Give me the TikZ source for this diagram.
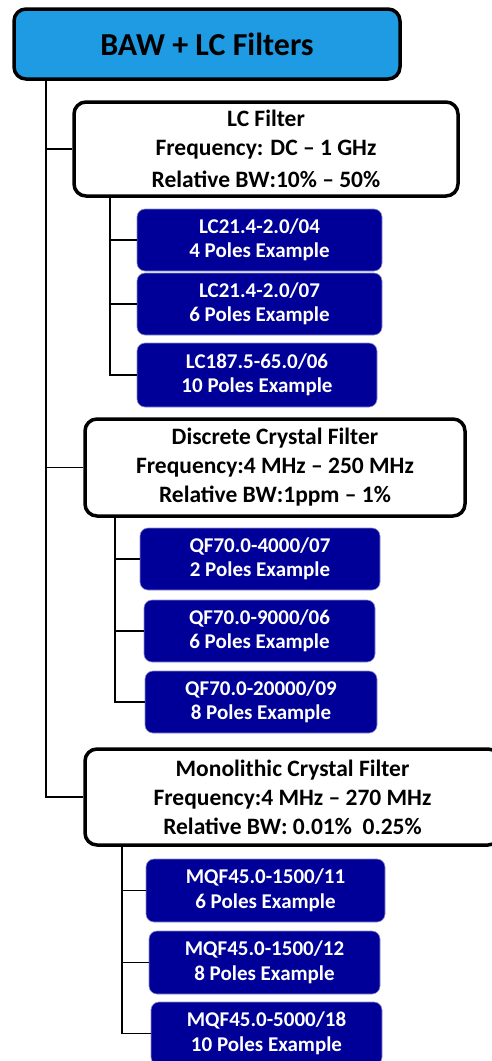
\documentclass[tikz,border=0pt]{standalone}
\usepackage{fontspec}
\setmainfont{Carlito}
\definecolor{bawblue}{RGB}{30,155,226}
\definecolor{polesblue}{RGB}{0,0,153}
\tikzset{
  titlebox/.style={draw=black, line width=3.5pt, rounded corners=12pt, fill=bawblue,
    font=\fontsize{32}{38}\selectfont\bfseries},
  familybox/.style={draw=black, line width=3.5pt, rounded corners=12pt, fill=white,
    align=center, inner sep=0pt, font=\fontsize{23.5}{29}\selectfont\bfseries},
  examplebox/.style={draw=polesblue!45!white, line width=0.6pt, rounded corners=8pt,
    fill=polesblue, text=white, align=center, inner sep=0pt,
    font=\fontsize{21}{24.5}\selectfont\bfseries},
  branch/.style={line width=1.5pt}
}
\begin{document}
\begin{tikzpicture}[x=1pt, y=-1pt]
  \useasboundingbox (0,0) rectangle (492,1061);
  \clip (0,0) rectangle (492,1061);

  % Abscisses des troncs
  \def\xmain{46}   % tronc principal
  \def\xlc{110}    % sous-tronc LC
  \def\xdcf{115}   % sous-tronc quartz discret
  \def\xmcf{122}   % sous-tronc quartz monolithique

  % ==============================================
  % 1. TITRE ET FAMILLES
  % ==============================================
  \node[titlebox, minimum width=386pt, minimum height=70pt] (baw) at (207,44) {BAW + LC Filters};

  \node[familybox, minimum width=384pt, minimum height=94pt] (lc) at (266,149)
    {LC Filter\\Frequency: DC – 1 GHz\\[3pt]Relative BW:10\% – 50\%};
  \node[familybox, minimum width=380pt, minimum height=97pt] (dcf) at (275,467.5)
    {Discrete Crystal Filter\\Frequency:4 MHz – 250 MHz\\Relative BW:1ppm – 1\%};
  \node[familybox, minimum width=415pt, minimum height=96pt] (mcf) at (292.5,797)
    {Monolithic Crystal Filter\\Frequency:4 MHz – 270 MHz\\Relative BW: 0.01\%\ \ 0.25\%};

  % Points de depart des troncs
  \coordinate (root) at (\xmain,79);
  \coordinate (lcroot) at (\xlc,196);
  \coordinate (dcfroot) at (\xdcf,516);
  \coordinate (mcfroot) at (\xmcf,845);

  % ==============================================
  % 2. EXEMPLES (code / suffixe / nombre de poles)
  % ==============================================
  \foreach \name/\cx/\cy/\w/\h/\code/\suf/\poles in {
      lca/259.5/240/245/62/LC21.4-2.0/04/4,
      lcb/259.5/304/245/62/LC21.4-2.0/07/6,
      lcc/257/375/240/64/LC187.5-65.0/06/10,
      dcfa/260/559/240/62/QF70.0-4000/07/2,
      dcfb/259.5/631/231/62/QF70.0-9000/06/6,
      dcfc/261/702/232/62/QF70.0-20000/09/8,
      mcfa/265.5/890.5/239/63/MQF45.0-1500/11/6,
      mcfb/264.5/962.5/231/63/MQF45.0-1500/12/8,
      mcfc/266.5/1033.5/231/63/MQF45.0-5000/18/10} {
    \node[examplebox, minimum width=\w pt, minimum height=\h pt] (\name) at (\cx,\cy)
      {\code/\suf\\\poles{} Poles Example};
  }

  % ==============================================
  % 3. BRANCHES
  % ==============================================
  \foreach \fam in {lc, dcf, mcf}
    \draw[branch] (root) |- (\fam.west);

  \foreach \leaf/\trunk in {lca/lcroot, lcb/lcroot, lcc/lcroot,
      dcfa/dcfroot, dcfb/dcfroot, dcfc/dcfroot,
      mcfa/mcfroot, mcfb/mcfroot, mcfc/mcfroot}
    \draw[branch] (\trunk) |- (\leaf.west);

\end{tikzpicture}
\end{document}
